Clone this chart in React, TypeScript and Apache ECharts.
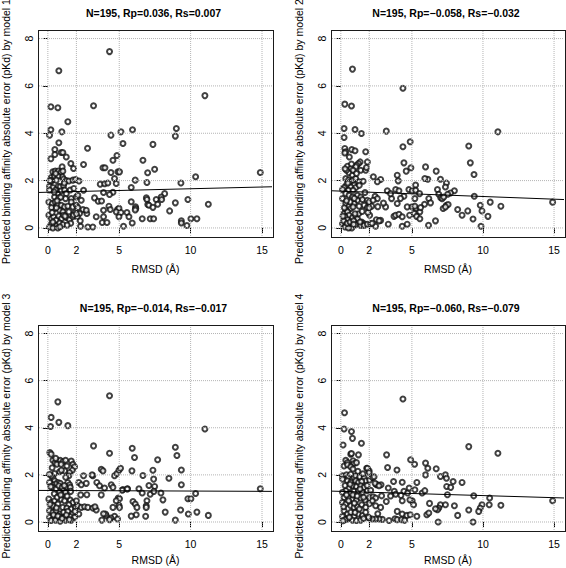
import React, { useEffect, useRef } from "react";
import * as echarts from "echarts";

const X_TICKS = [0, 2, 5, 10, 15];
const Y_TICKS = [0, 2, 4, 6, 8];
const X_MIN = -0.62;
const X_MAX = 15.7;
const Y_MIN = -0.34;
const Y_MAX = 8.32;

const titles = [
  "N=195, Rp=0.036, Rs=0.007",
  "N=195, Rp=\u22120.058, Rs=\u22120.032",
  "N=195, Rp=\u22120.014, Rs=\u22120.017",
  "N=195, Rp=\u22120.060, Rs=\u22120.079",
];
const yNames = [
  "Predicted binding affinity absolute error (pKd) by model 1",
  "Predicted binding affinity absolute error (pKd) by model 2",
  "Predicted binding affinity absolute error (pKd) by model 3",
  "Predicted binding affinity absolute error (pKd) by model 4",
];
const xName = "RMSD (\u00C5)";

const fitIntercepts = [1.509, 1.556, 1.338, 1.299];
const fitSlopes = [0.0147, -0.0227, -0.00245, -0.0178];

const model1 = [
  [4.32,7.45],[0.77,6.64],[11.0,5.59],[0.21,5.12],[0.70,5.08],[3.2,5.16],[1.40,4.49],[0.21,4.15],[0.12,3.92],[0.98,4.06],
  [4.42,3.92],[5.12,4.06],[5.93,4.15],[9.0,4.2],[8.93,3.88],[0.77,3.6],[5.26,3.57],[7.36,3.53],[2.78,3.37],[0.93,3.19],
  [1.05,3.19],[0.49,3.31],[0.49,3.1],[0.21,2.92],[1.29,3.0],[4.84,3.06],[4.56,2.86],[6.66,2.86],[1.61,2.72],[2.5,2.68],
  [1.0,2.58],[1.8,2.51],[3.86,2.54],[4.0,2.54],[7.48,2.48],[4.42,2.34],[4.91,2.37],[5.02,2.37],[6.99,2.33],[10.35,2.16],
  [14.88,2.34],[9.32,1.9],[6.12,2.02],[4.67,2.09],[4.79,1.88],[3.67,1.85],[3.98,1.87],[4.2,1.9],[6.94,1.92],[5.84,1.71],
  [2.5,1.59],[3.27,1.27],[3.53,1.13],[3.76,1.14],[3.9,1.5],[4.56,1.51],[4.32,1.41],[6.9,1.27],[6.94,1.2],[7.59,1.2],
  [8.18,1.45],[7.94,1.31],[7.97,1.2],[9.81,1.2],[5.84,1.11],[11.24,1.0],[8.93,1.06],[7.0,0.99],[7.08,0.96],[7.36,0.87],
  [7.69,1.0],[6.14,0.89],[6.16,0.82],[6.12,0.76],[3.9,0.75],[4.28,0.92],[4.37,0.78],[4.88,0.78],[4.98,0.83],[4.79,0.68],
  [5.12,0.65],[5.54,0.65],[8.53,0.72],[5.68,0.47],[4.98,0.47],[6.61,0.39],[7.17,0.39],[7.41,0.39],[10.02,0.39],[10.44,0.39],
  [9.35,0.30],[9.35,0.21],[5.91,0.21],[3.81,0.23],[4.14,0.23],[5.3,0.07],[9.74,0.1],[2.8,0.04],[3.15,0.04],[2.29,0.07],
  [3.9,0.47],[2.73,0.61],[3.39,0.47],
  [0.35,2.37],[0.52,2.4],[0.73,2.4],[0.91,2.34],[1.05,2.4],[1.01,2.16],[0.24,2.13],[0.31,2.02],[0.19,1.95],[0.47,2.19],
  [0.70,2.19],[0.59,2.02],[1.10,2.07],[1.29,2.0],[1.47,1.98],[1.75,2.02],[1.94,2.05],[2.18,1.98],[0.73,1.76],[0.87,1.74],
  [0.12,1.76],[1.10,1.79],[0.35,1.71],[0.54,1.6],[0.12,1.6],[0.70,1.43],[0.94,1.57],[1.17,1.6],[0.47,1.31],[0.77,1.28],
  [1.29,1.45],[1.57,1.6],[1.82,1.67],[1.24,1.24],[1.64,1.24],[1.99,1.31],[2.1,1.38],[2.34,1.17],[0.07,1.1],[0.31,1.03],
  [0.52,1.1],[0.70,1.0],[0.94,0.96],[1.17,0.89],[1.4,0.92],[1.64,1.1],[1.75,0.89],[1.99,0.96],[2.1,0.86],[2.46,0.78],
  [0.47,0.82],[0.82,0.75],[0.26,0.86],[1.05,0.68],[1.47,0.68],[1.87,0.64],[2.22,0.61],[2.69,0.75],[0.07,0.54],[0.24,0.4],
  [0.4,0.47],[0.59,0.33],[0.77,0.5],[0.96,0.4],[1.10,0.54],[1.29,0.44],[1.52,0.35],[1.75,0.47],[2.06,0.47],[2.27,0.3],
  [0.24,0.16],[0.45,0.07],[0.63,0.11],[0.82,0.21],[1.05,0.14],[0.12,0.04],[0.35,0.0],[0.70,0.0],
  [0.15,2.0],[0.55,2.3],[0.9,1.3],[1.2,0.5],[0.6,0.85],[0.35,0.25],[1.6,0.2],[0.85,0.05],[1.15,1.9],[0.45,1.52],
  [1.8,0.55],[0.3,0.65],[2.0,0.6],[0.65,1.15],[1.35,0.12],
];

const model2 = [
  [0.82,6.71],[4.37,5.9],[11.05,4.06],[9.0,3.46],[9.11,2.75],[9.37,2.26],[5.96,2.58],[6.12,2.06],[5.91,2.09],[6.71,2.4],
  [7.01,2.06],[7.43,1.9],[7.36,1.73],[6.8,1.62],[7.99,1.57],[7.71,1.48],[7.52,1.42],[6.89,1.42],[7.03,1.28],[7.13,1.24],
  [7.24,1.31],[9.39,1.34],[6.19,1.24],[6.31,1.06],[5.89,1.0],[7.43,0.96],[7.55,0.99],[7.2,0.82],[7.36,0.89],[8.22,0.78],
  [9.81,0.96],[10.51,1.09],[11.26,0.92],[14.9,1.09],[9.93,0.72],[8.93,0.72],[8.53,0.54],[9.3,0.38],[10.35,0.49],[6.66,0.3],
  [6.17,0.11],[9.86,0.07],[5.56,0.68],[5.26,0.82],
  [0.28,5.23],[0.75,5.15],[0.23,4.2],[1.0,4.16],[1.45,3.99],[0.23,3.82],[3.2,4.09],[4.37,3.43],[4.88,3.64],[0.28,3.36],
  [0.35,3.22],[0.77,3.31],[1.0,3.26],[1.75,3.22],[0.28,3.17],[1.36,2.79],[1.24,2.72],[1.12,2.65],[1.87,2.79],[1.4,2.44],
  [1.75,2.44],[4.44,2.75],[4.6,2.4],[4.93,2.54],[0.47,2.61],[0.7,2.51],[0.58,2.33],[0.4,2.44],[0.82,2.23],[1.05,2.58],
  [0.86,2.44],[2.29,2.16],[2.8,2.05],[2.57,1.95],[3.97,2.23],[4.04,1.99],[5.26,1.81],[0.35,2.09],[0.54,2.02],[0.7,1.95],
  [0.86,2.02],[1.05,2.09],[1.29,1.95],[1.57,1.97],[0.93,1.81],[0.4,1.81],[0.7,1.73],[1.05,1.71],[0.23,1.71],[0.12,1.62],
  [0.54,1.59],[0.86,1.59],[3.27,1.57],[3.86,1.62],[4.09,1.57],[4.79,1.62],[5.02,1.57],[5.26,1.59],[0.35,1.45],[0.58,1.38],
  [0.12,1.24],[0.82,1.31],[1.17,1.38],[1.4,1.31],[2.41,1.34],[2.57,1.24],[3.57,1.24],[4.44,1.34],[5.54,1.45],[5.21,1.24],
  [1.17,1.17],[1.52,1.2],[1.87,1.17],[1.99,1.1],[2.27,1.17],[1.64,0.96],[1.87,0.86],[2.17,0.92],[0.93,1.03],[0.35,1.03],
  [0.58,0.92],[0.7,0.82],[0.86,0.89],[1.29,0.92],[3.15,0.89],[3.97,1.03],[4.67,0.89],[5.02,0.89],[5.21,0.92],[5.61,0.86],
  [0.35,0.75],[0.23,0.61],[0.47,0.68],[0.58,0.54],[0.3,0.47],[0.47,0.35],[0.82,0.44],[1.05,0.49],[1.17,0.39],[1.47,0.25],
  [1.64,0.18],[2.03,0.54],[2.5,0.35],[2.8,0.32],[2.69,0.3],[3.74,0.49],[3.86,0.54],[4.09,0.58],[4.32,0.47],[4.84,0.54],
  [5.16,0.61],[5.33,0.49],[5.56,0.39],[0.12,0.18],[0.35,0.11],[0.58,0.04],[0.82,0.07],[1.05,0.14],[1.4,0.11],[1.64,0.11],
  [1.87,0.16],[2.1,0.18],[2.45,0.07],[3.34,0.16],[4.32,0.07],[4.67,0.16],[0.3,0.04],[0.77,0.0],[0.54,0.0],
  [0.2,0.3],[0.45,0.2],[0.65,0.25],[0.9,0.3],[1.25,0.6],[1.5,0.7],[0.65,1.1],[0.95,1.25],[1.1,2.3],[0.5,1.9],
  [0.25,0.85],[1.7,1.5],[2.6,0.9],[3.0,1.05],[0.4,1.15],[1.9,0.65],[0.15,0.5],[0.75,2.7],[1.3,1.8],[0.6,3.0],
  [2.2,0.2],[3.5,1.45],[4.2,1.25],[1.0,0.6],[0.3,2.5],[1.8,2.55],[0.9,0.15],[1.35,0.25],[2.0,0.85],
];

const model3 = [
  [4.32,5.36],[0.70,5.1],[0.23,4.44],[0.19,4.05],[0.77,4.23],[1.4,4.09],[11.0,3.95],[3.2,3.23],[5.91,3.13],[8.93,3.17],
  [4.32,2.92],[6.07,2.74],[9.04,2.82],[7.69,2.64],[9.35,2.21],[5.89,2.17],[7.36,2.2],[6.66,1.97],[8.48,1.86],[7.41,1.82],
  [9.35,1.58],[7.08,1.55],[7.48,1.51],[6.38,1.41],[5.58,1.41],[5.26,1.38],[6.61,1.23],[7.17,1.18],[7.43,1.3],[7.92,1.23],
  [10.35,1.21],[14.88,1.41],[9.81,0.99],[10.02,0.99],[8.06,0.94],[6.94,0.9],[5.96,0.87],[6.12,0.76],[6.24,0.62],[6.89,0.69],
  [6.89,0.62],[9.3,0.51],[8.22,0.42],[10.44,0.42],[6.19,0.31],[5.84,0.25],[6.85,0.24],[9.84,0.34],[11.24,0.28],[8.93,0.08],
  [4.93,1.02],[5.02,0.99],[4.98,0.71],[5.02,0.62],[4.79,0.9],[4.56,0.62],[4.67,0.24],[4.88,0.13],[4.42,0.17],[4.09,0.27],
  [4.04,0.34],[3.78,0.08],[4.32,0.1],
  [0.14,2.95],[0.23,2.88],[0.35,2.62],[0.51,2.52],[0.7,2.59],[0.86,2.62],[1.05,2.56],[1.24,2.62],[0.63,2.45],[0.93,2.45],
  [1.33,2.38],[1.64,2.59],[1.75,2.45],[1.87,2.34],[1.71,2.2],[1.52,2.1],[1.47,1.96],[1.17,2.17],[0.82,2.13],[0.47,2.06],
  [0.35,1.89],[0.23,1.96],[0.12,2.03],[2.5,1.96],[3.15,1.96],[3.74,2.24],[3.86,2.17],[4.67,1.96],[4.84,2.06],[4.98,2.2],
  [5.09,2.28],[0.47,1.75],[0.7,1.68],[0.86,1.64],[0.54,1.61],[0.3,1.58],[0.12,1.68],[0.35,1.47],[0.58,1.4],[0.77,1.54],
  [1.0,1.47],[1.1,1.33],[1.29,1.5],[1.4,1.68],[1.52,1.58],[0.82,1.26],[1.05,1.18],[1.24,1.26],[1.57,1.47],[2.17,1.68],
  [2.34,1.58],[2.69,1.64],[3.43,1.68],[3.62,1.54],[3.97,1.44],[4.44,1.58],[4.56,1.47],[5.21,1.35],[5.56,1.4],[0.07,0.97],
  [0.23,0.83],[0.47,0.9],[0.7,0.76],[0.35,0.69],[0.93,0.97],[1.17,0.9],[1.57,0.93],[1.75,0.83],[1.47,0.73],[1.05,0.62],
  [1.33,0.59],[1.64,0.55],[1.94,0.62],[2.1,0.69],[2.34,0.62],[2.57,0.65],[2.8,0.62],[3.15,0.59],[3.39,0.51],[0.12,0.48],
  [0.35,0.41],[0.58,0.48],[0.86,0.34],[1.1,0.41],[1.4,0.45],[1.71,0.34],[0.12,0.2],[0.35,0.13],[0.63,0.17],[0.82,0.23],
  [1.17,0.2],[1.57,0.23],[1.87,0.2],[2.17,0.34],[0.23,0.06],[0.54,0.08],[0.86,0.03],[1.24,0.08],[1.64,0.08],
  [0.2,1.5],[0.45,1.2],[0.65,1.05],[0.9,1.15],[1.15,1.55],[1.35,1.1],[1.6,1.3],[0.3,2.3],[0.55,2.7],[0.95,2.2],
  [1.25,1.9],[0.4,0.3],[0.7,0.25],[1.0,0.15],[1.3,0.3],[1.5,0.1],[1.9,0.45],[2.0,0.9],[0.15,0.75],[0.6,0.6],
  [2.3,1.15],[2.73,1.16],[3.74,1.15],[3.3,0.65],[3.9,0.35],[3.1,2.0],
];

const model4 = [
  [4.37,5.22],[0.26,4.64],[0.23,3.95],[0.75,3.84],[0.82,3.55],[0.16,3.27],[1.45,3.34],[9.0,3.2],[11.05,2.92],[3.22,2.85],
  [4.91,2.64],[5.19,2.45],[5.96,2.5],[6.12,2.28],[6.71,2.26],[3.29,2.31],[3.95,2.21],[1.82,2.28],[1.99,2.17],[2.22,1.9],
  [5.96,2.0],[7.01,1.93],[7.36,2.0],[7.43,1.86],[7.45,1.51],[7.73,1.47],[7.9,1.72],[8.53,1.68],[5.35,1.68],[2.5,1.58],
  [2.83,1.58],[3.71,1.72],[4.32,1.69],[4.44,1.3],[4.7,1.23],[4.81,1.44],[5.21,1.37],[5.72,1.23],[5.91,1.33],[7.5,1.16],
  [9.35,1.11],[10.47,1.02],[3.76,1.3],[3.86,1.18],[4.23,1.13],[3.5,1.1],[3.2,0.87],[4.32,0.9],[5.02,0.9],[5.12,0.73],
  [4.86,0.94],[6.24,0.79],[7.01,0.73],[6.89,0.59],[7.36,0.73],[6.8,0.52],[7.99,0.69],[9.93,0.73],[9.81,0.59],[9.7,0.45],
  [10.44,0.73],[11.26,0.71],[14.9,0.9],[9.0,0.51],[8.22,0.28],[6.05,0.31],[6.19,0.38],[6.66,0.56],[3.97,0.45],[4.32,0.34],
  [4.65,0.28],[4.88,0.31],[5.35,0.24],[3.81,0.14],[3.97,0.1],[4.28,0.1],[4.49,0.07],[3.39,0.06],[2.92,0.11],[2.69,0.13],
  [2.45,0.13],[2.22,0.13],[1.99,0.17],[6.85,0.0],[9.3,0.0],
  [0.7,2.88],[0.75,2.91],[1.24,2.85],[0.35,2.62],[0.47,2.52],[0.86,2.6],[0.93,2.48],[1.1,2.52],[0.23,2.38],[0.47,2.43],
  [0.7,2.34],[1.87,2.28],[1.99,2.1],[0.12,1.96],[0.4,2.0],[0.54,1.92],[0.7,2.03],[0.93,1.89],[1.05,1.96],[1.33,1.92],
  [1.64,1.89],[1.75,1.75],[2.03,1.78],[2.22,1.89],[2.34,1.92],[2.57,1.58],[2.41,1.64],[2.69,1.54],[0.12,1.82],[0.47,1.75],
  [0.7,1.68],[1.05,1.75],[1.24,1.68],[1.47,1.72],[0.82,1.54],[1.1,1.5],[1.4,1.54],[1.64,1.47],[0.54,1.44],[0.35,1.33],
  [0.12,1.26],[0.7,1.21],[0.93,1.3],[1.24,1.33],[1.52,1.26],[1.87,1.33],[2.1,1.35],[3.34,1.44],[0.23,1.04],[0.58,1.02],
  [0.82,0.97],[1.1,0.93],[1.4,1.02],[1.71,0.93],[2.03,1.04],[2.27,1.07],[2.45,1.02],[2.87,1.11],[0.12,0.83],[0.35,0.76],
  [0.7,0.69],[0.93,0.62],[1.17,0.65],[1.47,0.73],[1.75,0.62],[2.03,0.79],[2.22,0.9],[2.45,0.69],[2.8,0.62],[0.23,0.48],
  [0.47,0.34],[0.12,0.23],[0.7,0.41],[0.93,0.23],[1.24,0.34],[1.52,0.27],[1.75,0.41],[1.94,0.2],[0.47,0.13],[0.82,0.08],
  [1.1,0.06],[1.4,0.08],
  [0.3,0.1],[0.6,0.2],[1.0,0.4],[1.3,0.55],[1.6,0.15],[0.2,0.65],[0.55,0.9],[0.85,1.15],[1.15,1.1],[1.35,1.4],
  [0.3,1.55],[0.65,1.6],[1.85,1.55],[0.95,0.8],[1.6,1.05],[0.4,1.15],[1.2,2.15],[0.85,2.25],[1.55,2.05],[2.6,0.35],
  [0.15,0.05],
];

const modelPoints = [model1, model2, model3, model4];

const FONT = "Liberation Sans, Arial, Helvetica, sans-serif";

// plot boxes: [left, top, width, height]
const boxes = [
  [39, 31, 233, 205],
  [332, 31, 232, 205],
  [39, 326, 233, 204],
  [332, 326, 232, 204],
];

export default function App() {
  const ref = useRef<HTMLDivElement>(null);

  useEffect(() => {
    if (!ref.current) return;
    const chart = echarts.init(ref.current, undefined, { renderer: "svg" });

    const grid = boxes.map((b) => ({
      left: b[0],
      top: b[1],
      width: b[2],
      height: b[3],
      show: false,
    }));

    const xAxis = boxes.map((_, i) => ({
      type: "value",
      gridIndex: i,
      min: X_MIN,
      max: X_MAX,
      axisLine: { show: false },
      axisTick: { show: true, customValues: X_TICKS, length: 5, lineStyle: { color: "#000", width: 1 } },
      axisLabel: { customValues: X_TICKS, fontSize: 10.5, fontFamily: FONT, color: "#000", margin: 8 },
      splitLine: { show: false },
    }));

    const yAxis = boxes.map((_, i) => ({
      type: "value",
      gridIndex: i,
      min: Y_MIN,
      max: Y_MAX,
      axisLine: { show: false },
      axisTick: { show: true, customValues: Y_TICKS, length: 5, lineStyle: { color: "#000", width: 1 } },
      axisLabel: { customValues: Y_TICKS, rotate: 90, fontSize: 10.5, fontFamily: FONT, color: "#000", margin: 5 },
      splitLine: { show: false },
    }));

    const series: any[] = [];
    modelPoints.forEach((pts, i) => {
      X_TICKS.forEach((v) => {
        series.push({
          type: "line", xAxisIndex: i, yAxisIndex: i,
          data: [[v, Y_MIN], [v, Y_MAX]],
          symbol: "none",
          lineStyle: { color: "#b4b4b4", type: "dotted", width: 1 },
        });
      });
      Y_TICKS.forEach((v) => {
        series.push({
          type: "line", xAxisIndex: i, yAxisIndex: i,
          data: [[X_MIN, v], [X_MAX, v]],
          symbol: "none",
          lineStyle: { color: "#b4b4b4", type: "dotted", width: 1 },
        });
      });
      series.push({
        type: "scatter", xAxisIndex: i, yAxisIndex: i,
        data: pts,
        symbol: "emptyCircle",
        symbolSize: 5,
        itemStyle: { color: "#111", borderColor: "#111", borderWidth: 1.1 },
      });
      const a = fitIntercepts[i];
      const b = fitSlopes[i];
      series.push({
        type: "line", xAxisIndex: i, yAxisIndex: i,
        data: [[X_MIN, a + b * X_MIN], [X_MAX, a + b * X_MAX]],
        symbol: "none",
        lineStyle: { color: "#000", width: 1 },
      });
    });

    const graphic: any[] = [];
    boxes.forEach((b, i) => {
      const cx = b[0] + b[2] / 2;
      const bottomRow = i >= 2;
      const L = b[0] - 1;
      const T = b[1] - 1;
      const R = b[0] + b[2] + 1;
      const B = b[1] + b[3] + 1;
      // plot frame as thin filled bars just outside the plotting area
      [
        [L, T, R - L + 1, 1],
        [L, B, R - L + 1, 1],
        [L, T, 1, B - T + 1],
        [R, T, 1, B - T + 1],
      ].forEach((r) => {
        graphic.push({
          type: "rect",
          z: 100,
          shape: { x: r[0], y: r[1], width: r[2], height: r[3] },
          style: { fill: "#1a1a1a" },
        });
      });
      graphic.push({
        type: "text", x: cx - 2, y: b[1] - 18,
        style: { text: titles[i], fontSize: 10.5, fontWeight: "bold", fontFamily: FONT, fill: "#000", textAlign: "center", textVerticalAlign: "middle" },
      });
      graphic.push({
        type: "text", x: cx, y: b[1] + b[3] + (bottomRow ? 29.5 : 33),
        style: { text: xName, fontSize: 10.5, fontFamily: FONT, fill: "#000", textAlign: "center", textVerticalAlign: "middle" },
      });
      graphic.push({
        type: "text", x: b[0] - 33.5, y: b[1] + b[3] / 2 - 2, rotation: Math.PI / 2,
        style: { text: yNames[i], fontSize: 10.5, fontFamily: FONT, fill: "#000", textAlign: "center", textVerticalAlign: "middle" },
      });
    });

    chart.setOption({ animation: false, grid, xAxis, yAxis, series, graphic } as any);

    return () => chart.dispose();
  }, []);

  return <div ref={ref} style={{ position: "absolute", left: 0, top: 0, width: 566, height: 568 }} />;
}
